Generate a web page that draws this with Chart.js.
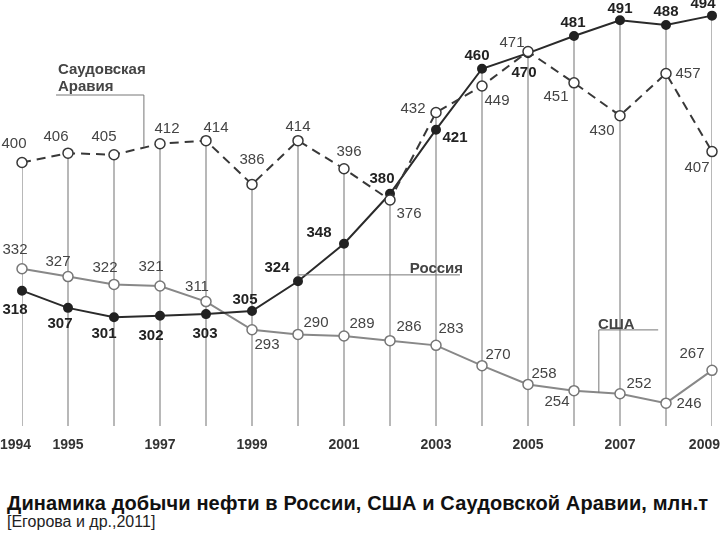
<!DOCTYPE html>
<html>
<head>
<meta charset="utf-8">
<script src="https://cdn.jsdelivr.net/npm/chart.js@4"></script>
<style>
  body { margin: 0; background: #fff; }
  #wrap { position: relative; width: 720px; height: 540px; }
  #title { position: absolute; left: 7px; top: 492px; font: bold 20px "Liberation Sans", Arial, sans-serif; letter-spacing: 0.13px; color: #111; white-space: nowrap; }
  #source { position: absolute; left: 7px; top: 513px; font: 16px "Liberation Sans Narrow", "Liberation Sans", Arial, sans-serif; color: #222; white-space: nowrap; }
</style>
</head>
<body>
<div id="wrap">
  <canvas id="myChart" width="720" height="460"></canvas>
  <div id="title">Динамика добычи нефти в России, США и Саудовской Аравии, млн.т</div>
  <div id="source">[Егорова и др.,2011]</div>
</div>
<script>
// данные
var years = ['1994','1995','1996','1997','1998','1999','2000','2001','2002','2003','2004','2005','2006','2007','2008','2009'];
var shownYears = ['1994','1995','1997','1999','2001','2003','2005','2007','2009'];
var saudi  = [400, 406, 405, 412, 414, 386, 414, 396, 376, 432, 449, 471, 451, 430, 457, 407];
var russia = [318, 307, 301, 302, 303, 305, 324, 348, 380, 421, 460, 470, 481, 491, 488, 494];
var usa    = [332, 327, 322, 321, 311, 293, 290, 289, 286, 283, 270, 258, 254, 252, 246, 267];

var yMin = 231.4, yMax = 504.0;

// смещения подписей (px) относительно точек
var saudiOff = [[-8,-19],[-12,-16],[-10,-18],[7,-15],[10,-13],[0,-25],[0,-14],[5,-17],[19,14],[-23,-4],[15,15],[-16,-9],[-18,14],[-18,15],[22,0],[-15,16]];
var russiaOff = [[-7,19],[-8,16],[-10,17],[-9,20],[-1,20],[-7,-11],[-21,-13],[-25,-11],[-8,-15],[19,8],[-5,-13],[-4,20],[-1,-13],[0,-11],[0,-13],[-9,-12]];
var usaOff = [[-7,-19],[-10,-15],[-9,-17],[-9,-19],[-9,-15],[15,15],[18,-12],[18,-12],[19,-14],[15,-17],[16,-11],[16,-11],[-17,11],[19,-10],[23,1],[-20,-17]];

// вертикальные линии от верхней точки до низа
var stems = years.map(function (y, i) {
  return [yMin, Math.max(saudi[i], russia[i], usa[i])];
});

var FONT = '"Liberation Sans", Arial, sans-serif';

var pointLabels = {
  id: 'pointLabels',
  afterDatasetsDraw: function (chart) {
    var c = chart.ctx;
    var sets = [
      { ds: 1, data: saudi, off: saudiOff, font: '15px ' + FONT, color: '#444' },
      { ds: 3, data: usa, off: usaOff, font: '15px ' + FONT, color: '#444' },
      { ds: 2, data: russia, off: russiaOff, font: 'bold 15px ' + FONT, color: '#222' }
    ];
    c.save();
    c.textAlign = 'center';
    c.textBaseline = 'middle';
    sets.forEach(function (s) {
      var meta = chart.getDatasetMeta(s.ds);
      c.font = s.font;
      c.fillStyle = s.color;
      meta.data.forEach(function (pt, i) {
        c.fillText(String(s.data[i]), pt.x + s.off[i][0], pt.y + s.off[i][1]);
      });
    });

    var xs = chart.scales.x, ys = chart.scales.y;
    function X(v) { return xs.getPixelForValue(v); }
    function Y(v) { return ys.getPixelForValue(v); }

    // подписи годов под осью (крайние прижаты к краю холста)
    c.font = 'bold 14px ' + FONT;
    c.fillStyle = '#333';
    years.forEach(function (yr, i) {
      if (shownYears.indexOf(yr) < 0) return;
      var w = c.measureText(yr).width;
      var x = X(i);
      if (i === 0) x = w / 2;
      if (i === years.length - 1) x = chart.width - w / 2;
      c.fillText(yr, x, chart.chartArea.bottom + 19);
    });

    // выноски с названиями стран
    c.strokeStyle = '#777';
    c.lineWidth = 1;
    c.beginPath();
    c.moveTo(X(0.74), Y(443.2)); c.lineTo(X(2.65), Y(443.2)); c.lineTo(X(2.65), Y(410));
    c.moveTo(X(6), Y(328.1)); c.lineTo(X(9.52), Y(328.1));
    c.moveTo(X(13.83), Y(292.9)); c.lineTo(X(12.54), Y(292.9)); c.lineTo(X(12.54), Y(252.6));
    c.stroke();

    c.font = 'bold 15px ' + FONT;
    c.fillStyle = '#444';
    c.textAlign = 'left';
    c.fillText('Саудовская', X(0.78), Y(459.2));
    c.fillText('Аравия', X(0.78), Y(448.3));
    c.fillText('Россия', X(8.43), Y(331.9));
    c.fillText('США', X(12.52), Y(296.1));
    c.restore();
  }
};

var ctx = document.getElementById('myChart').getContext('2d');
var myChart = new Chart(ctx, {
  data: {
    labels: years,
    datasets: [
      {
        type: 'bar',
        data: stems,
        backgroundColor: '#aaa',
        barThickness: 1,
        order: 10
      },
      {
        type: 'line',
        label: 'Саудовская Аравия',
        data: saudi,
        borderColor: '#383838',
        borderWidth: 2,
        borderDash: [9, 6],
        pointRadius: 5,
        pointBackgroundColor: '#fff',
        pointBorderColor: '#383838',
        pointBorderWidth: 1.5,
        clip: false,
        order: 1
      },
      {
        type: 'line',
        label: 'Россия',
        data: russia,
        borderColor: '#2a2a2a',
        borderWidth: 2,
        pointRadius: 4,
        pointBackgroundColor: '#222',
        pointBorderColor: '#222',
        clip: false,
        order: 2
      },
      {
        type: 'line',
        label: 'США',
        data: usa,
        borderColor: '#888',
        borderWidth: 2,
        pointRadius: 5,
        pointBackgroundColor: '#fff',
        pointBorderColor: '#777',
        pointBorderWidth: 1.5,
        clip: false,
        order: 3
      }
    ]
  },
  options: {
    responsive: false,
    animation: false,
    layout: { autoPadding: false, padding: { left: 22, right: 8, top: 0, bottom: 34 } },
    plugins: {
      legend: { display: false },
      tooltip: { enabled: false }
    },
    scales: {
      x: {
        type: 'category',
        offset: false,
        display: false
      },
      y: {
        display: false,
        min: yMin,
        max: yMax
      }
    }
  },
  plugins: [pointLabels]
});
</script>
</body>
</html>
